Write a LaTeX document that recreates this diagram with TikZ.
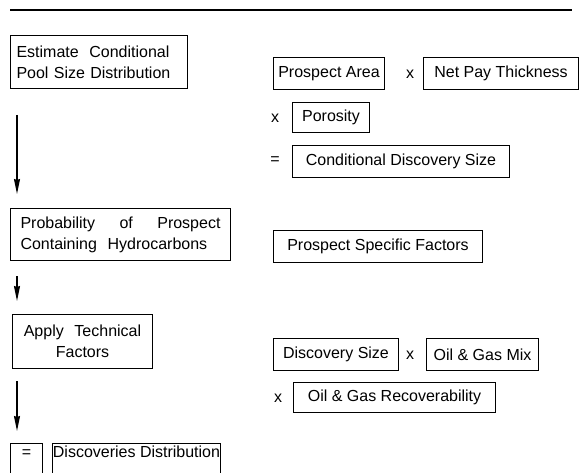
\documentclass[tikz,border=0pt]{standalone}
\usepackage{fontspec}
\setmainfont{Liberation Sans}
\usetikzlibrary{arrows.meta}
\tikzset{
  box/.style={draw, line width=1pt, anchor=north west, inner xsep=6pt, inner ysep=2pt,
    font=\fontsize{16}{21}\selectfont, align=left},
  sbox/.style={draw, line width=1pt, anchor=north west, inner xsep=0pt, inner ysep=2pt,
    font=\fontsize{16}{21}\selectfont},
  op/.style={font=\fontsize{16}{20}\selectfont, inner sep=0pt},
  arr/.style={line width=1.3pt, -{Stealth[length=15pt,width=6pt,inset=1pt]}},
  rule/.style={line width=1.3pt}
}
\begin{document}
\begin{tikzpicture}[x=1pt,y=1pt]
\useasboundingbox (0,0) rectangle (580,-473);
\clip (0,0) rectangle (580,-473);
% top rule
\coordinate (r1) at (10,-10);
\coordinate (r2) at (572,-10);
\draw[rule] (r1) -- (r2);
% left column
\node[box, text width=165, minimum height=53] (b1) at (10,-35)
  {Estimate\ \ Conditional\\Pool Size Distribution};
\node[box, inner xsep=10pt, text width=200, minimum height=52] (b2) at (10,-208)
  {Probability\hfill of\hfill Prospect\\Containing\ \ Hydrocarbons};
\node[box, text width=128, minimum height=54, align=center] (b3) at (12,-314)
  {Apply\ \ Technical\\Factors};
\node[sbox, minimum width=32, text height=12pt, text depth=26pt] (beq) at (10,-443) {=};
\node[sbox, minimum width=168, text height=12pt, text depth=26pt] (bdd) at (52,-443) {Discoveries Distribution};
% arrows
\coordinate (a1s) at (17,-115); \coordinate (a1e) at (17,-194);
\coordinate (a2s) at (17,-276); \coordinate (a2e) at (17,-301);
\coordinate (a3s) at (17,-381); \coordinate (a3e) at (17,-431);
\draw[arr] (a1s) -- (a1e);
\draw[arr] (a2s) -- (a2e);
\draw[arr] (a3s) -- (a3e);
% right column
\node[sbox, minimum width=111, minimum height=32] (pa) at (273,-57) {Prospect Area};
\node[op] (x1) at (410,-74) {x};
\node[sbox, minimum width=155, minimum height=32] (np) at (423,-57) {Net Pay Thickness};
\node[op] (x2) at (275,-118) {x};
\node[sbox, minimum width=77, minimum height=30] (po) at (292,-102) {Porosity};
\node[op] (e1) at (275,-161) {=};
\node[sbox, minimum width=217, minimum height=32] (cd) at (292,-145) {Conditional Discovery Size};
\node[sbox, minimum width=209, minimum height=32] (ps) at (273,-230) {Prospect Specific Factors};
\node[sbox, minimum width=125, minimum height=32] (ds) at (273,-338) {Discovery Size};
\node[op] (x3) at (410,-355) {x};
\node[sbox, minimum width=112, minimum height=32] (og) at (426,-338) {Oil \& Gas Mix};
\node[op] (x4) at (278,-398) {x};
\node[sbox, minimum width=202, minimum height=30] (ogr) at (293,-382) {Oil \& Gas Recoverability};
\end{tikzpicture}
\end{document}
